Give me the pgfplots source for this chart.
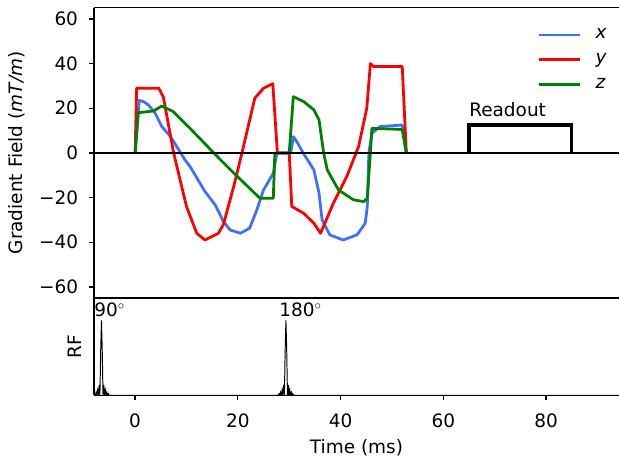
\documentclass[border=0pt]{standalone}
\usepackage{fontspec}
\setmainfont{DejaVu Sans}
\usepackage{pgfplots}
\pgfplotsset{compat=1.18}
\definecolor{mblue}{RGB}{64,112,250}
\definecolor{mred}{RGB}{255,0,0}
\definecolor{mgreen}{RGB}{0,128,0}
\newcommand\mfont{\fontsize{13.3pt}{16pt}\selectfont}

\begin{document}
\begin{tikzpicture}
\path[use as bounding box] (-67.7pt,-47.3pt) rectangle (378pt,284.6pt);
\pgfplotsset{
  every axis/.append style={
    scale only axis, width=378pt, xmin=-8, xmax=94.2,
    axis y line*=left, axis x line*=box,
    axis line style={line width=0.9pt},
    tick style={line width=0.9pt, black},
    tick align=outside, major tick length=3.5pt,
    /pgf/number format/assume math mode=true,
    tick label style={font=\mfont},
    xticklabel style={yshift=-6pt},
    yticklabel style={xshift=-4.5pt},
    label style={font=\mfont, inner sep=0pt},
  }
}
% RF pulses
\begin{axis}[name=rf, at={(0,0)}, anchor=south west, height=70pt,
  ymin=0, ymax=1.3, ytick=\empty, xtick={0,20,40,60,80}, xtick pos=left,
  xlabel={Time (ms)}, ylabel={RF},
  xlabel style={at={(axis description cs:0.5,-0.455)}, anchor=north},
  ylabel style={at={(axis description cs:-0.0229,0.5)}, anchor=south}]
  \addplot[black, line width=0.7pt] coordinates {
    (-8.05,0)(-7.90,0.02)(-7.75,0)(-7.60,0.04)(-7.45,0)(-7.30,0.07)(-7.15,0)
    (-7.00,0.14)(-6.85,0)(-6.70,0.6)(-6.55,1)(-6.40,0.6)(-6.25,0)(-6.10,0.14)
    (-5.95,0)(-5.80,0.07)(-5.65,0)(-5.50,0.04)(-5.35,0)(-5.20,0.02)(-5.05,0)
    (27.86,0)(28.01,0.02)(28.16,0)(28.31,0.04)(28.46,0)(28.61,0.07)(28.76,0)
    (28.91,0.14)(29.06,0)(29.21,0.6)(29.36,1)(29.51,0.6)(29.66,0)(29.81,0.14)
    (29.96,0)(30.11,0.07)(30.26,0)(30.41,0.04)(30.56,0)(30.71,0.02)(30.86,0)
    (94.2,0)};
  \node[anchor=base west, inner sep=0pt, font=\mfont] at (axis cs:-8.0,1.053) {90$^\circ$};
  \node[anchor=base west, inner sep=0pt, font=\mfont] at (axis cs:28.05,1.053) {180$^\circ$};
\end{axis}
% gradients
\begin{axis}[name=top, at={(0,70pt)}, anchor=south west, height=209pt,
  ymin=-65, ymax=65, xtick=\empty, ytick={-60,-40,...,60}, ytick pos=left,
  yticklabels={−60,−40,−20,0,20,40,60},
  ylabel={Gradient Field (\textit{mT/m})},
  ylabel style={at={(axis description cs:-0.1305,0.5)}, anchor=south},
  legend style={draw=none, fill=none, at={(axis description cs:0.8438,0.938)},
    anchor=north west, inner sep=0pt, row sep=5pt, font=\mfont,
    cells={anchor=west, inner sep=0pt},
    /tikz/every odd column/.append style={column sep=8pt}},
  legend image code/.code={\draw[#1, line width=2pt] (0pt,0pt) -- (30pt,0pt);},
  every axis plot/.append style={line join=round}]
  \addplot[mblue, line width=2pt] coordinates {
    (0,0)(0.8,23.5)(1.6,23)(2.6,21.5)(3.9,17.8)(5.2,11.8)(6.9,7.3)(9.7,-3.1)
    (10.7,-6.1)(13.6,-17.3)(15.6,-23.3)(17.2,-30.8)(18.5,-34.5)(20.5,-36)
    (22.3,-33.7)(23.7,-25.5)(25.0,-16.6)(26.9,-9.1)(27.6,0)(30.3,0)(30.8,7.3)
    (31.5,5)(32.7,0)(34.8,-7.6)(35.8,-18)(36.4,-30)(37.9,-36.7)(40.5,-39)
    (43.2,-36.7)(44.8,-31.5)(45.2,-24)(45.5,0)(46.1,8.8)(47.7,11.8)(52.0,12.5)
    (52.8,0)};
  \addlegendentry{\textit{x}}
  \addplot[mred, line width=2pt] coordinates {
    (0,0)(0.3,29)(4.6,29)(5.5,25)(7.5,0)(10.0,-24)(12.0,-36)(13.6,-39)
    (16.2,-36)(17.2,-32)(19.2,-15)(20.8,0)(23.3,24.5)(25.0,29)(26.8,31)
    (27.7,0)(30.0,0)(30.5,-24)(32.8,-27)(34.8,-31.5)(36.1,-36)(38.6,-22.5)
    (41.2,-10.6)(43.5,2.8)(45.1,20)(45.8,40)(46.4,38.7)(52.0,38.7)(52.8,0)};
  \addlegendentry{\textit{y}}
  \addplot[mgreen, line width=2pt] coordinates {
    (0,0)(0.6,18)(3.6,18.8)(5.2,21)(7.4,18.5)(10.7,11)(15.3,0)(19.2,-9)
    (24.3,-20.3)(26.9,-20.3)(27.2,0)(30.0,0)(30.8,25.2)(32.8,23)(34.8,19.3)
    (35.8,14.8)(36.7,0)(37.4,-7.6)(39.6,-16.6)(42.5,-21)(44.5,-21.8)
    (45.2,-20.3)(45.8,0)(46.1,11)(52.0,10.5)(52.8,0)};
  \addlegendentry{\textit{z}}
  \addplot[black, line width=1pt, forget plot] coordinates {(-8,0)(94.2,0)};
  \addplot[black, line width=2.2pt, line join=miter, forget plot] coordinates {
    (65,0)(65,12.5)(85,12.5)(85,0)};
  \node[anchor=base west, inner sep=0pt, font=\mfont] at (axis cs:65,16.3) {Readout};
\end{axis}
\end{tikzpicture}
\end{document}
